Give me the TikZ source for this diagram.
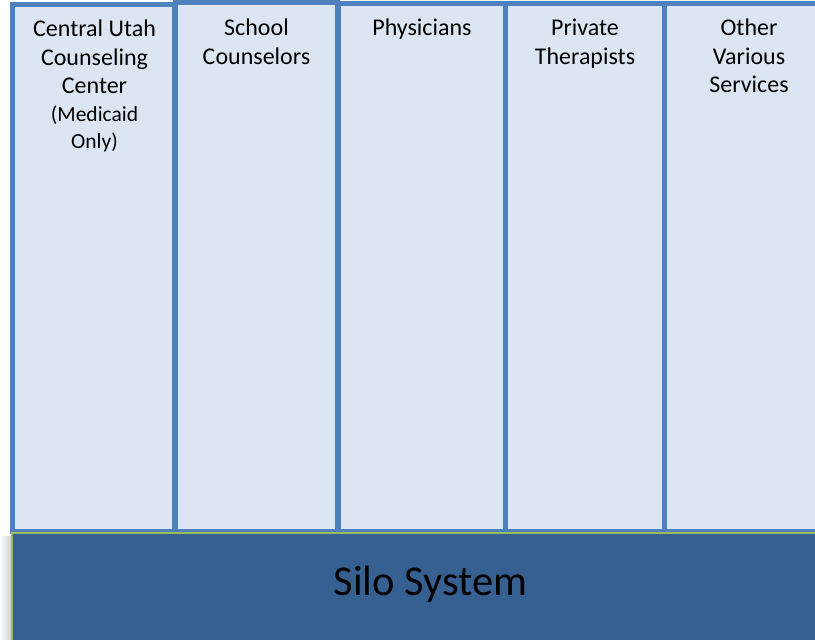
\documentclass[tikz,border=0pt]{standalone}
\usepackage{fontspec}
\setmainfont{Carlito}
\definecolor{colfill}{HTML}{DCE6F2}
\definecolor{colline}{HTML}{4F81BD}
\definecolor{silofill}{HTML}{366092}
\definecolor{siloedge}{HTML}{9BBB59}
\tikzset{
  silocol/.style={draw=colline, fill=colfill, line width=5pt},
  coltext/.style={anchor=north, align=center, inner sep=0pt,
    font=\fontsize{24}{28.5}\selectfont},
  silotext/.style={anchor=base, inner sep=0pt, font=\fontsize{42.5}{50}\selectfont}
}
\begin{document}
\begin{tikzpicture}[x=1pt, y=-1pt]
  \useasboundingbox (0,0) rectangle (815,640);

  % the five columns
  \draw[silocol] (12.5,4.5) rectangle (174.5,531);
  \draw[silocol] (338.5,3.5) rectangle (506.5,531);
  \draw[silocol] (505.5,3.5) rectangle (664.5,531);
  \draw[silocol] (664.5,3.5) rectangle (840,531);
  \draw[silocol] (175.5,2.5) rectangle (337.5,531);

  % column headings
  \node[coltext] (cucc) at (94.5,20) {Central Utah\\Counseling\\Center\\[-1pt]{\fontsize{21.5}{27}\selectfont(Medicaid}\\[-1pt]{\fontsize{21.5}{27}\selectfont Only)}};
  \node[coltext] (school) at (256.5,19) {School\\Counselors};
  \node[coltext] (phys) at (422,19) {Physicians};
  \node[coltext] (priv) at (585,19) {Private\\Therapists};
  \node[coltext] (other) at (749,19) {Other\\Various\\Services};

  % shadow and base bar
  \shade[left color=white, right color=black!18] (0,536) rectangle (11,640);
  \fill[silofill] (11,532) rectangle (850,650);
  \draw[siloedge, line width=2pt] (12,650) -- (12,533) -- (850,533);
  \node[silotext] (silo) at (430.5,595) {Silo System};
\end{tikzpicture}
\end{document}
